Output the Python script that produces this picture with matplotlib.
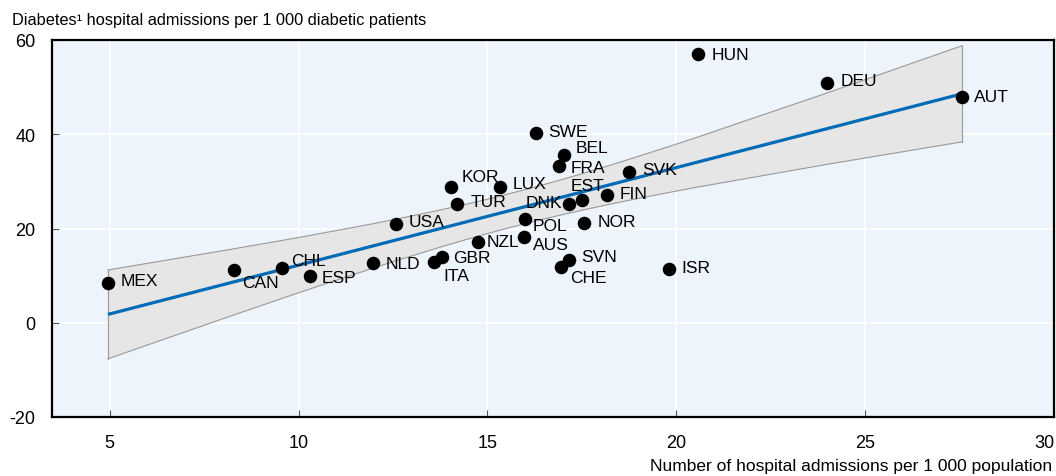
import numpy as np
import matplotlib
matplotlib.use("Agg")
import matplotlib.pyplot as plt

countries = ["MEX", "CAN", "CHL", "ESP", "NLD", "ITA", "GBR", "NZL", "AUS", "USA",
             "POL", "TUR", "KOR", "LUX", "DNK", "EST", "FIN", "NOR", "FRA", "BEL",
             "SWE", "SVK", "HUN", "DEU", "AUT", "ISR", "SVN", "CHE"]
admissions_pop = [4.95, 8.28, 9.55, 10.3, 11.97, 13.58, 13.8, 14.75, 15.97, 12.58,
                  16.0, 14.2, 14.03, 15.33, 17.16, 17.5, 18.17, 17.56, 16.89, 17.03,
                  16.28, 18.75, 20.58, 24.0, 27.57, 19.8, 17.16, 16.95]
diabetes_adm = [8.5, 11.1, 11.7, 10.0, 12.6, 12.8, 14.0, 17.2, 18.1, 20.9,
                22.1, 25.3, 28.9, 28.9, 25.3, 26.0, 27.2, 21.1, 33.2, 35.5,
                40.2, 31.9, 57.0, 50.9, 47.9, 11.3, 13.4, 11.9]

x_ticks = [5, 10, 15, 20, 25, 30]
y_ticks = [-20, 0, 20, 40, 60]

# label offsets in pixels (dx, dy, ha)
label_pos = {
    "MEX": (13, 2, "left"), "CAN": (8, -12, "left"), "CHL": (9, 7, "left"),
    "ESP": (12, -2, "left"), "NLD": (13, 0, "left"), "ITA": (10, -13, "left"),
    "GBR": (11, -1, "left"), "NZL": (9, 0, "left"), "AUS": (9, -7, "left"),
    "USA": (13, 3, "left"), "POL": (7, -7, "left"), "TUR": (13, 2, "left"),
    "KOR": (11, 10, "left"), "LUX": (13, 3, "left"), "DNK": (-7, 1, "right"),
    "EST": (-11, 15, "left"), "FIN": (12, 1, "left"), "NOR": (13, 2, "left"),
    "FRA": (12, -1, "left"), "BEL": (11, 8, "left"), "SWE": (12, 2, "left"),
    "SVK": (13, 3, "left"), "HUN": (13, 0, "left"), "DEU": (13, 2, "left"),
    "AUT": (12, 1, "left"), "ISR": (13, 2, "left"), "SVN": (12, 3, "left"),
    "CHE": (9, -11, "left"),
}

plt.rcParams['font.family'] = ['Liberation Sans', 'DejaVu Sans']
plt.rcParams['axes.unicode_minus'] = False

x = np.array(admissions_pop)
y = np.array(diabetes_adm)

# OLS fit with 95% confidence band
n = len(x)
b1, b0 = np.polyfit(x, y, 1)
resid = y - (b0 + b1 * x)
s = np.sqrt(np.sum(resid ** 2) / (n - 2))
t_crit = 2.056
xs = np.unique(np.sort(x))
yfit = b0 + b1 * xs
se = s * np.sqrt(1.0 / n + (xs - x.mean()) ** 2 / np.sum((x - x.mean()) ** 2))
lo = yfit - t_crit * se
hi = yfit + t_crit * se

fig = plt.figure(figsize=(10.56, 4.77), dpi=100)
ax = fig.add_axes([52 / 1056, 1 - 418 / 477, (1054 - 52) / 1056, (418 - 41) / 477])
ax.set_facecolor("#EDF4FB")

ax.fill_between(xs, lo, hi, facecolor="#E6E6E6", edgecolor="none", zorder=2)
ax.plot(xs, lo, color="#999999", lw=0.8, zorder=2.5)
ax.plot(xs, hi, color="#999999", lw=0.8, zorder=2.5)
ax.plot([xs[0], xs[0]], [lo[0], hi[0]], color="#999999", lw=0.8, zorder=2.5)
ax.plot([xs[-1], xs[-1]], [lo[-1], hi[-1]], color="#999999", lw=0.8, zorder=2.5)
ax.plot(xs, yfit, color="#006BB6", lw=2.3, zorder=3, solid_capstyle="butt")

ax.scatter(x, y, s=95, color="black", zorder=4, linewidths=0)

for c, xi, yi in zip(countries, x, y):
    dx, dy, ha = label_pos[c]
    ax.annotate(c, (xi, yi), xytext=(dx, dy), textcoords="offset pixels",
                ha=ha, va="center", fontsize=12.5, color="black", zorder=5)

ax.set_xlim(3.47, 30)
ax.set_ylim(-20, 60)
ax.set_xticks(x_ticks)
ax.set_yticks(y_ticks)
ax.grid(True, color="white", lw=1.2, zorder=1)
ax.set_axisbelow(True)
for sp in ax.spines.values():
    sp.set_color("black")
    sp.set_linewidth(1.6)
ax.tick_params(direction="in", length=5, width=0.8, color="#555555",
               labelsize=13)
ax.tick_params(axis="y", pad=12)
ax.tick_params(axis="x", pad=12)
labels = ax.get_xticklabels()
labels[-1].set_ha("right")

fig.text(12 / 1056, 1 - 20 / 477, "Diabetes\u00b9 hospital admissions per 1 000 diabetic patients",
         ha="left", va="center", fontsize=11.8)
fig.text(1052 / 1056, 1 - 467 / 477, "Number of hospital admissions per 1 000 population",
         ha="right", va="center", fontsize=12.5)

fig.savefig("out.png", dpi=100)
